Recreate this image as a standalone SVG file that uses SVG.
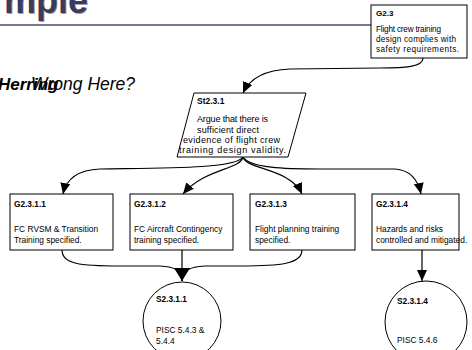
<svg xmlns="http://www.w3.org/2000/svg" width="472" height="350" viewBox="0 0 472 350">
<defs>
<marker id="ah" markerUnits="userSpaceOnUse" markerWidth="11" markerHeight="10" refX="11" refY="5" orient="auto"><path d="M0,0 L11,5 L0,10 z" fill="#000"/></marker>
<marker id="ahBig" markerUnits="userSpaceOnUse" markerWidth="13" markerHeight="16" refX="13" refY="8" orient="auto"><path d="M0,0 L13,8 L0,16 z" fill="#000"/></marker>
<filter id="sh" x="-10%" y="-10%" width="130%" height="150%"><feGaussianBlur stdDeviation="0.7"/></filter>
</defs>
<style>
.box{fill:#fff;stroke:#000;stroke-width:1}
.t{font-family:"Liberation Sans",Arial,sans-serif;fill:#000}
.id{font-weight:bold}
.c{fill:none;stroke:#000;stroke-width:1.2}
</style>
<g id="title">
<text x="89" y="14" text-anchor="end" class="t" font-size="36" font-weight="bold" filter="url(#sh)" style="fill:#a0a0b4">mple</text>
<text x="88" y="13" text-anchor="end" class="t" font-size="36" font-weight="bold" style="fill:#3b3b5c">mple</text>
<line x1="0" y1="25" x2="372" y2="25" stroke="#4b4b6b" stroke-width="1.6"/>
<text x="-2" y="90" class="t" font-size="17" font-style="italic" font-weight="bold">Herring</text>
<text x="31" y="90" class="t" font-size="17.5" font-style="italic">Wrong Here?</text>
</g>
<g id="connectors">
<path class="c" marker-end="url(#ah)" d="M423,58 C423,67 405,68 380,68 L290,69 C262,70 249,80 243,93"/>
<path class="c" marker-end="url(#ah)" d="M243,157 C236,169 160,168 100,169 C76,170 66,180 63,194"/>
<path class="c" marker-end="url(#ah)" d="M243,157 C240,170 205,168 183,194"/>
<path class="c" marker-end="url(#ah)" d="M243,157 C247,170 290,168 302,194"/>
<path class="c" marker-end="url(#ah)" d="M243,157 C250,168 285,169 320,169 L395,169 C410,170 418,180 421,194"/>
<path class="c" d="M62,250 C62,264 80,266 120,266 L160,266 C175,267 182,270 182,281"/>
<path class="c" marker-end="url(#ahBig)" d="M182,250 L182,281"/>
<path class="c" d="M302,250 C302,264 280,266 240,266 L205,266 C190,267 182,270 182,281"/>
<path class="c" marker-end="url(#ah)" d="M422,250 L422,281"/>
</g>
<g id="G2.3">
<rect class="box" x="371" y="5" width="96" height="53"/>
<text class="t id" x="376" y="16" font-size="8">G2.3</text>
<text class="t" x="376" y="32" font-size="8.2" textLength="65">Flight crew training</text>
<text class="t" x="376" y="42" font-size="8.2" textLength="80">design complies with</text>
<text class="t" x="376" y="52" font-size="8.2" textLength="83">safety requirements.</text>
</g>
<g id="St2.3.1">
<polygon class="box" points="194,93 306,93 288,157 177,157"/>
<text class="t id" x="197" y="104" font-size="8.5">St2.3.1</text>
<text class="t" x="197" y="122" font-size="9" textLength="71">Argue that there is</text>
<text class="t" x="197" y="133" font-size="9" textLength="62">sufficient direct</text>
<text class="t" x="183" y="143" font-size="9" textLength="97">evidence of flight crew</text>
<text class="t" x="179" y="153" font-size="9" textLength="107">training design validity.</text>
</g>
<g id="G2.3.1.1">
<rect class="box" x="10" y="194" width="103" height="56"/>
<text class="t id" x="14" y="207" font-size="8.3">G2.3.1.1</text>
<text class="t" x="14" y="232" font-size="8.4">FC RVSM &amp; Transition</text>
<text class="t" x="14" y="243" font-size="8.4">Training specified.</text>
</g>
<g id="G2.3.1.2">
<rect class="box" x="130" y="194" width="103" height="56"/>
<text class="t id" x="134" y="207" font-size="8.3">G2.3.1.2</text>
<text class="t" x="134" y="232" font-size="8.4">FC Aircraft Contingency</text>
<text class="t" x="134" y="243" font-size="8.4">training specified.</text>
</g>
<g id="G2.3.1.3">
<rect class="box" x="250" y="194" width="105" height="56"/>
<text class="t id" x="255" y="207" font-size="8.3">G2.3.1.3</text>
<text class="t" x="255" y="232" font-size="8.4">Flight planning training</text>
<text class="t" x="255" y="243" font-size="8.4">specified.</text>
</g>
<g id="G2.3.1.4">
<rect class="box" x="372" y="194" width="87" height="56"/>
<text class="t id" x="376" y="207" font-size="8.3">G2.3.1.4</text>
<text class="t" x="376" y="232" font-size="8.4">Hazards and risks</text>
<text class="t" x="376" y="243" font-size="8.4">controlled and mitigated.</text>
</g>
<g id="S2.3.1.1">
<circle class="box" cx="182" cy="321" r="39"/>
<text class="t id" x="156" y="302" font-size="8.3">S2.3.1.1</text>
<text class="t" x="156" y="333" font-size="8.4">PISC 5.4.3 &amp;</text>
<text class="t" x="156" y="344" font-size="8.4">5.4.4</text>
</g>
<g id="S2.3.1.4">
<circle class="box" cx="426" cy="322" r="41"/>
<text class="t id" x="397" y="304" font-size="8.3">S2.3.1.4</text>
<text class="t" x="397" y="343" font-size="8.4">PISC 5.4.6</text>
</g>
</svg>
